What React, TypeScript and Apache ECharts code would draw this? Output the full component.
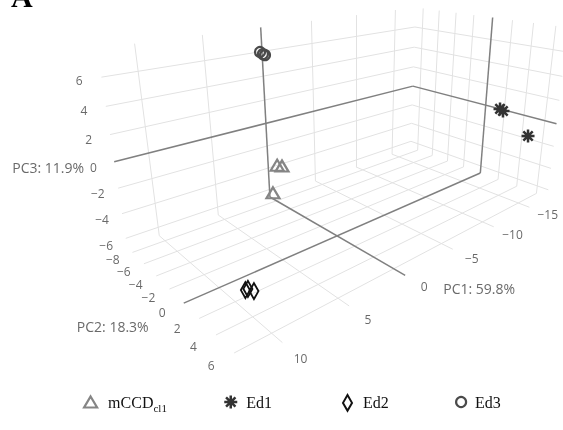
import React, { useEffect, useRef } from "react";
import * as echarts from "echarts";

// ---- axis ticks and ranges ----
const PC1_TICKS = [-15, -10, -5, 0, 5, 10];
const PC2_TICKS = [-8, -6, -4, -2, 0, 2, 4, 6];
const PC3_TICKS = [-6, -4, -2, 0, 2, 4, 6];
const PC1_RANGE = [-17.8, 12.46];
const PC2_RANGE = [-8.99, 7.07];
const PC3_RANGE = [-6.72, 7.9];
const AXIS_TITLES = ["PC1: 59.8%", "PC2: 18.3%", "PC3: 11.9%"];

// ---- series values (PC1, PC2, PC3 per sample) ----
const GROUPS = ["mCCD", "Ed1", "Ed2", "Ed3"];
const MCCD_PC1 = [1.35, 1.17, 0.2];
const MCCD_PC2 = [-5.6, -5.2, -8.17];
const MCCD_PC3 = [-2.3, -2.3, -5.97];
const ED1_PC1 = [-16.4, -15.5, -14.85];
const ED1_PC2 = [2.47, 3.37, 6.33];
const ED1_PC3 = [0.5, 0.71, -0.57];
const ED2_PC1 = [10.8, 11.1, 10.5];
const ED2_PC2 = [4.79, 5.61, 5.21];
const ED2_PC3 = [-4.06, -3.42, -4.05];
const ED3_PC1 = [3.88, 3.88, 3.88];
const ED3_PC2 = [-3.19, -2.6, -2.84];
const ED3_PC3 = [7.38, 7.26, 7.29];

// ---- camera (perspective view of the 3D scene) ----
const CAMERA = { azimuth: 0.84, elevation: 0.343, distance: 43.712, focal: 579.56, sx: 354.88, sy: 133.72 };

type V3 = number[];
const dot = (a: V3, b: V3) => a[0] * b[0] + a[1] * b[1] + a[2] * b[2];
const sub = (a: V3, b: V3) => [a[0] - b[0], a[1] - b[1], a[2] - b[2]];
const mul = (a: V3, s: number) => [a[0] * s, a[1] * s, a[2] * s];
const cross = (a: V3, b: V3) => [a[1] * b[2] - a[2] * b[1], a[2] * b[0] - a[0] * b[2], a[0] * b[1] - a[1] * b[0]];
const norm = (a: V3) => mul(a, 1 / Math.sqrt(dot(a, a)));

function makeProjector() {
  const { azimuth, elevation, distance, focal, sx, sy } = CAMERA;
  const cx = (PC1_RANGE[0] + PC1_RANGE[1]) / 2;
  const cy = (PC2_RANGE[0] + PC2_RANGE[1]) / 2;
  const cz = (PC3_RANGE[0] + PC3_RANGE[1]) / 2;
  const eye = [
    distance * Math.cos(elevation) * Math.cos(azimuth),
    distance * Math.cos(elevation) * Math.sin(azimuth),
    distance * Math.sin(elevation),
  ];
  const fwd = norm(mul(eye, -1));
  const right = norm(cross(fwd, [0, 0, 1]));
  const up = cross(right, fwd);
  return (X: number, Y: number, Z: number) => {
    const rel = sub([X - cx, Y - cy, Z - cz], eye);
    const d = dot(rel, fwd);
    return [sx + (focal * dot(rel, right)) / d, sy - (focal * dot(rel, up)) / d];
  };
}

const fmt = (v: number) => (v < 0 ? "\u2212" + Math.abs(v) : String(v));

export default function App() {
  const ref = useRef<HTMLDivElement>(null);
  useEffect(() => {
    const chart = echarts.init(ref.current!, null, { renderer: "svg" });
    const P = makeProjector();
    const [x0, x1] = PC1_RANGE;
    const [y0, y1] = PC2_RANGE;
    const [z0, z1] = PC3_RANGE;

    const grid: any[] = [];
    const zero: any[] = [];
    const seg = (a: number[], b: number[], isZero: boolean) =>
      (isZero ? zero : grid).push({ coords: [P(a[0], a[1], a[2]), P(b[0], b[1], b[2])] });
    PC1_TICKS.forEach((t) => { seg([t, y0, z0], [t, y1, z0], t === 0); seg([t, y0, z0], [t, y0, z1], t === 0); });
    PC2_TICKS.forEach((t) => { seg([x0, t, z0], [x1, t, z0], t === 0); seg([x0, t, z0], [x0, t, z1], t === 0); });
    PC3_TICKS.forEach((t) => { seg([x0, y0, t], [x1, y0, t], t === 0); seg([x0, y0, t], [x0, y1, t], t === 0); });

    const tickLabels: any[] = [];
    PC1_TICKS.forEach((t) => { const p = P(t, y1 + 1.7, z0); tickLabels.push([p[0], p[1], fmt(t)]); });
    PC2_TICKS.forEach((t) => { const p = P(x1 + 1.4, t, z0); tickLabels.push([p[0], p[1], fmt(t)]); });
    PC3_TICKS.forEach((t) => { const p = P(x1 + 1.4, y0, t); tickLabels.push([p[0], p[1], fmt(t)]); });

    const t1 = P(0, y1, z0), t2 = P(x1, 0, z0), t3 = P(x1, y0, 0);
    const titles = [
      [t1[0] + 74, t1[1] + 13, AXIS_TITLES[0]],
      [t2[0] - 71, t2[1] + 23, AXIS_TITLES[1]],
      [t3[0] - 66, t3[1] + 6, AXIS_TITLES[2]],
    ];

    const pts = (a: number[], b: number[], c: number[]) => a.map((_, i) => P(a[i], b[i], c[i]));

    const ASTERISK = "path://M0,-1L0,1M-1,0L1,0M-0.72,-0.72L0.72,0.72M-0.72,0.72L0.72,-0.72";
    const DIAMOND = "path://M0,-1.75L1,0L0,1.75L-1,0Z";
    const styles: Record<string, any> = {
      mCCD: { symbol: "triangle", symbolSize: [13, 11], color: "#858585", bw: 2.2 },
      Ed1: { symbol: ASTERISK, symbolSize: 13, color: "#333333", bw: 2.5 },
      Ed2: { symbol: DIAMOND, symbolSize: [9, 16], color: "#111111", bw: 2 },
      Ed3: { symbol: "circle", symbolSize: 10, color: "#4a4a4a", bw: 2.2 },
    };
    const values: Record<string, number[][]> = {
      mCCD: pts(MCCD_PC1, MCCD_PC2, MCCD_PC3),
      Ed1: pts(ED1_PC1, ED1_PC2, ED1_PC3),
      Ed2: pts(ED2_PC1, ED2_PC2, ED2_PC3),
      Ed3: pts(ED3_PC1, ED3_PC2, ED3_PC3),
    };

    const legendLeft = [83, 223, 342, 455];
    const legendGap = [6, 4, 6, 4];

    chart.setOption({
      animation: false,
      grid: { left: 0, right: 0, top: 0, bottom: 0 },
      xAxis: { type: "value", min: 0, max: 563, show: false },
      yAxis: { type: "value", min: 0, max: 430, inverse: true, show: false },
      graphic: [
        {
          type: "text", x: 11, y: 11,
          style: { text: "A", font: "bold 30px 'Liberation Serif'", fill: "#000", verticalAlign: "bottom" },
        },
      ],
      legend: GROUPS.map((g, i) => ({
        data: [g],
        left: legendLeft[i],
        top: 394,
        padding: 0,
        itemWidth: styles[g].symbolSize[0] || styles[g].symbolSize,
        itemHeight: styles[g].symbolSize[1] || styles[g].symbolSize,
        icon: styles[g].symbol,
        itemStyle: { color: "rgba(0,0,0,0)", borderColor: styles[g].color, borderWidth: styles[g].bw },
        formatter: g === "mCCD" ? "mCCD{s|cl1}" : "{name}",
        textStyle: {
          fontFamily: "'Liberation Serif', serif",
          fontSize: 16,
          color: "#111",
          padding: [0, 0, 0, legendGap[i]],
          rich: { s: { fontFamily: "'Liberation Serif', serif", fontSize: 11, color: "#111", padding: [11, 0, 0, 0] } },
        },
      })),
      series: [
        { type: "lines", coordinateSystem: "cartesian2d", silent: true, z: 1, lineStyle: { color: "#e2e2e2", width: 1, opacity: 1 }, data: grid },
        { type: "lines", coordinateSystem: "cartesian2d", silent: true, z: 2, lineStyle: { color: "#808080", width: 1.5, opacity: 1 }, data: zero },
        {
          type: "scatter", silent: true, z: 3, symbolSize: 0, data: tickLabels,
          label: { show: true, position: "inside", formatter: (p: any) => p.value[2], fontFamily: "'Open Sans'", fontSize: 12, color: "#444" },
        },
        {
          type: "scatter", silent: true, z: 3, symbolSize: 0, data: titles,
          label: { show: true, position: "inside", formatter: (p: any) => p.value[2], fontFamily: "'Open Sans'", fontSize: 14, color: "#444" },
        },
        ...GROUPS.map((g) => ({
          name: g,
          type: "scatter",
          z: 4,
          symbol: styles[g].symbol,
          symbolSize: styles[g].symbolSize,
          itemStyle: { color: "rgba(0,0,0,0)", borderColor: styles[g].color, borderWidth: styles[g].bw, opacity: 1 },
          data: values[g],
        })),
      ],
    });
    return () => chart.dispose();
  }, []);
  return <div ref={ref} style={{ position: "fixed", left: 0, top: 0, width: 563, height: 430 }} />;
}
